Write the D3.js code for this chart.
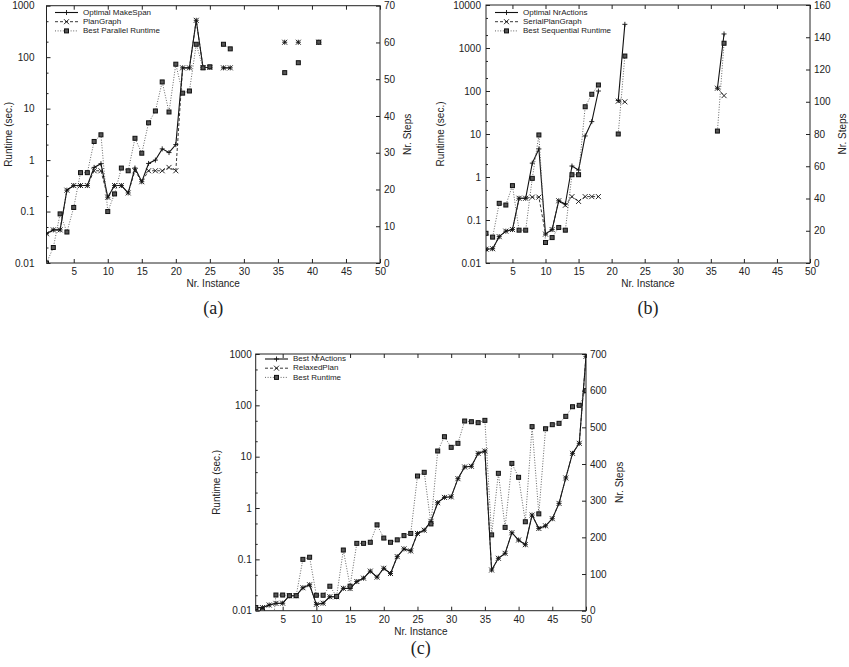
<!DOCTYPE html>
<html>
<head>
<meta charset="utf-8">
<script src="https://cdn.jsdelivr.net/npm/d3@7"></script>
<style>
body { margin: 0; background: #fff; }
text { font-family: "Liberation Sans", Arial, sans-serif; fill: #222; }
</style>
</head>
<body>
<div id="container"></div>
<script>
const WIDTH = 849;
const HEIGHT = 667;

// ---- panel (a) ----
var instancesA = [1,2,3,4,5,6,7,8,9,10,11,12,13,14,15,16,17,18,19,20,21,22,23,24,25,26,27,28,29,30,31,32,33,34,35,36,37,38,39,40,41];
var optimalMakeSpan = [0.037,0.044,0.044,0.26,0.32,0.32,0.32,0.72,0.85,0.19,0.32,0.32,0.23,0.7,0.38,0.86,1.0,1.65,1.4,2.0,62,62,520,63,63,null,62,62,null,null,null,null,null,null,null,195,null,195,null,null,195];
var planGraph = [0.037,0.044,0.044,0.26,0.32,0.32,0.32,0.62,0.62,0.19,0.32,0.32,0.23,0.62,0.38,0.62,0.62,0.62,0.72,0.62,62,62,520,63,63,null,62,62,null,null,null,null,null,null,null,195,null,195,null,null,195];
var bestParallel = [0.01,0.02,0.09,0.04,0.12,0.57,0.57,2.3,3.1,0.1,0.22,0.7,0.62,2.65,1.36,5.3,9.0,33,8.6,73,20,22,178,62,65,null,178,145,null,null,null,null,null,null,null,50,null,78,null,null,195];
var yTicksA = [0.01,0.1,1,10,100,1000];
var yTickLabelsA = ["0.01","0.1","1","10","100","1000"];
var y2TicksA = [0,10,20,30,40,50,60,70];
var legendA = ["Optimal MakeSpan","PlanGraph","Best Parallel Runtime"];

// ---- panel (b) ----
var instancesB = [1,2,3,4,5,6,7,8,9,10,11,12,13,14,15,16,17,18,19,20,21,22,23,24,25,26,27,28,29,30,31,32,33,34,35,36,37];
var optimalNrActions = [0.021,0.0215,0.041,0.055,0.06,0.32,0.32,2.1,4.5,0.047,0.06,0.28,0.235,1.8,1.45,9,19.4,100,null,null,60,3550,null,null,null,null,null,null,null,null,null,null,null,null,null,116,2120];
var serialPlanGraph = [0.021,0.0215,0.041,0.055,0.06,0.32,0.32,0.34,0.34,0.047,0.06,0.28,0.22,0.35,0.27,0.35,0.35,0.35,null,null,58,56,null,null,null,null,null,null,null,null,null,null,null,null,null,116,78];
var bestSequential = [0.049,0.04,0.244,0.223,0.63,0.058,0.058,0.93,9.5,0.03,0.039,0.067,0.058,1.13,1.13,43,84,138,null,null,10,650,null,null,null,null,null,null,null,null,null,null,null,null,null,11.7,1290];
var yTicksB = [0.01,0.1,1,10,100,1000,10000];
var yTickLabelsB = ["0.01","0.1","1","10","100","1000","10000"];
var y2TicksB = [0,20,40,60,80,100,120,140,160];
var legendB = ["Optimal NrActions","SerialPlanGraph","Best Sequential Runtime"];

// ---- panel (c) ----
var instancesC = [1,2,3,4,5,6,7,8,9,10,11,12,13,14,15,16,17,18,19,20,21,22,23,24,25,26,27,28,29,30,31,32,33,34,35,36,37,38,39,40,41,42,43,44,45,46,47,48,49,50];
var bestNrActions = [0.0115,0.0115,0.0129,0.0139,0.014,0.0196,0.0196,0.028,0.032,0.0133,0.014,0.0187,0.0187,0.0273,0.027,0.037,0.043,0.059,0.045,0.067,0.053,0.113,0.16,0.146,0.32,0.37,0.55,1.27,1.61,1.65,3.73,6.3,6.5,11.6,12.9,0.062,0.105,0.131,0.33,0.238,0.193,0.73,0.40,0.45,0.62,1.23,3.85,11.6,18.2,900];
var relaxedPlan = [0.0115,0.0115,0.0129,0.0139,0.014,0.0196,0.0196,0.028,0.032,0.0133,0.014,0.0187,0.0187,0.0273,0.027,0.037,0.043,0.059,0.045,0.067,0.053,0.113,0.16,0.146,0.32,0.37,0.55,1.27,1.61,1.65,3.73,6.3,6.5,11.6,12.9,0.062,0.105,0.131,0.33,0.238,0.193,0.73,0.40,0.45,0.62,1.23,3.85,11.6,18.2,900];
var bestRuntime = [0.0115,0.01,0.001,0.0202,0.0202,0.0196,0.0196,0.1,0.11,0.02,0.02,0.03,0.019,0.152,0.03,0.205,0.205,0.215,0.47,0.26,0.215,0.24,0.29,0.32,4.2,4.96,0.49,12.9,24.5,15.2,18.2,49.5,48,46,51,0.30,4.74,0.42,7.4,3.96,0.54,38.5,0.77,35,42,44.6,61,94,100,193];
var yTicksC = [0.01,0.1,1,10,100,1000];
var yTickLabelsC = ["0.01","0.1","1","10","100","1000"];
var y2TicksC = [0,100,200,300,400,500,600,700];
var legendC = ["Best NrActions","RelaxedPlan","Best Runtime"];

var xTicks = [5,10,15,20,25,30,35,40,45,50];

var styles = [
    {dash: null, stroke: "#111", width: 1.1, marker: "plus"},
    {dash: "3,2", stroke: "#222", width: 0.9, marker: "times"},
    {dash: "1,1.6", stroke: "#555", width: 0.9, marker: "box"}
];

var panels = [
    {name: "(a)", instances: instancesA, series: [optimalMakeSpan, planGraph, bestParallel], legend: legendA,
     yTicks: yTicksA, yLabels: yTickLabelsA, y2Ticks: y2TicksA,
     left: 46.5, right: 380, top: 5.7, bottom: 263, leftPad: 12, ylabX: 9, y2labX: 408,
     legX: 55, legY: 12.5, captionY: 314},
    {name: "(b)", instances: instancesB, series: [optimalNrActions, serialPlanGraph, bestSequential], legend: legendB,
     yTicks: yTicksB, yLabels: yTickLabelsB, y2Ticks: y2TicksB,
     left: 486, right: 810, top: 5, bottom: 263, leftPad: 5, ylabX: 441, y2labX: 843,
     legX: 495, legY: 12.5, captionY: 314},
    {name: "(c)", instances: instancesC, series: [bestNrActions, relaxedPlan, bestRuntime], legend: legendC,
     yTicks: yTicksC, yLabels: yTickLabelsC, y2Ticks: y2TicksC,
     left: 255.7, right: 586, top: 354, bottom: 610.7, leftPad: 4, ylabX: 217, y2labX: 620,
     legX: 265, legY: 359, captionY: 654}
];

var translate = function (x, y) {
    return "translate(" + x + "," + y + ")";
};

var drawMarker = function (g, type, cx, cy) {
    var s = 2.5;
    if (type === "plus") {
        g.append("path").attr("d", "M" + (cx - s) + "," + cy + "H" + (cx + s) + "M" + cx + "," + (cy - s) + "V" + (cy + s))
            .attr("stroke", "#111").attr("stroke-width", 0.9).attr("fill", "none");
    } else if (type === "times") {
        g.append("path").attr("d", "M" + (cx - s) + "," + (cy - s) + "L" + (cx + s) + "," + (cy + s) + "M" + (cx - s) + "," + (cy + s) + "L" + (cx + s) + "," + (cy - s))
            .attr("stroke", "#111").attr("stroke-width", 0.9).attr("fill", "none");
    } else {
        g.append("rect").attr("x", cx - 2).attr("y", cy - 2).attr("width", 4).attr("height", 4)
            .attr("fill", "#555").attr("stroke", "#111").attr("stroke-width", 1);
    }
};

var createChart = function () {
    var svg = d3.select("#container").append("svg")
        .attr("width", WIDTH).attr("height", HEIGHT);
    svg.append("rect").attr("width", WIDTH).attr("height", HEIGHT).attr("fill", "#fff");

    panels.forEach(function (p, pi) {
        var x = d3.scaleLinear().domain([1, 50]).range([p.left, p.right]);
        var y = d3.scaleLog().domain([p.yTicks[0], p.yTicks[p.yTicks.length - 1]]).range([p.bottom, p.top]);
        var y2 = d3.scaleLinear().domain([0, p.y2Ticks[p.y2Ticks.length - 1]]).range([p.bottom, p.top]);
        var g = svg.append("g");
        var fs = "10px";

        // axes
        g.append("g").attr("transform", translate(p.left, 0))
            .call(d3.axisLeft(y).tickValues(p.yTicks)
                .tickFormat(function (d, i) { return p.yLabels[i]; })
                .tickSize(-4).tickPadding(p.leftPad));
        // minor log ticks at 2 and 5
        var minors = [];
        p.yTicks.slice(0, -1).forEach(function (d) { minors.push(d * 2, d * 5); });
        g.append("g").attr("transform", translate(p.left, 0))
            .call(d3.axisLeft(y).tickValues(minors).tickFormat("").tickSize(-2));
        g.append("g").attr("transform", translate(p.right, 0))
            .call(d3.axisRight(y2).tickValues(p.y2Ticks).tickSize(-4).tickPadding(4));
        g.append("g").attr("transform", translate(0, p.bottom))
            .call(d3.axisBottom(x).tickValues(xTicks).tickSize(-4).tickPadding(5));
        g.append("g").attr("transform", translate(0, p.top))
            .call(d3.axisTop(x).tickValues(xTicks).tickFormat("").tickSize(-4));
        g.selectAll(".domain").remove();
        g.selectAll(".tick line").attr("stroke", "#222");
        g.selectAll(".tick text").attr("font-size", fs).attr("font-family", "Liberation Sans, Arial, sans-serif").attr("fill", "#222");

        g.append("rect").attr("x", p.left).attr("y", p.top)
            .attr("width", p.right - p.left).attr("height", p.bottom - p.top)
            .attr("fill", "none").attr("stroke", "#222").attr("stroke-width", 1);

        // labels
        var midY = (p.top + p.bottom) / 2;
        g.append("text").attr("transform", translate(p.ylabX, midY) + " rotate(-90)")
            .attr("text-anchor", "middle").attr("dominant-baseline", "middle").attr("font-size", fs).text("Runtime (sec.)");
        g.append("text").attr("transform", translate(p.y2labX, midY) + " rotate(-90)")
            .attr("text-anchor", "middle").attr("dominant-baseline", "middle").attr("font-size", fs).text("Nr. Steps");
        g.append("text").attr("x", (p.left + p.right) / 2).attr("y", p.bottom + 24)
            .attr("text-anchor", "middle").attr("font-size", fs).text("Nr. Instance");
        g.append("text").attr("x", (p.left + p.right) / 2).attr("y", p.captionY)
            .attr("text-anchor", "middle").attr("font-size", "18px")
            .style("font-family", "'Liberation Serif', 'DejaVu Serif', serif").text(p.name);

        // data
        var clipId = "clip" + pi;
        svg.append("clipPath").attr("id", clipId).append("rect")
            .attr("x", p.left).attr("y", p.top).attr("width", p.right - p.left).attr("height", p.bottom - p.top);
        var plot = g.append("g").attr("clip-path", "url(#" + clipId + ")");

        var line = d3.line()
            .defined(function (d) { return d.v !== null; })
            .x(function (d) { return x(d.n); })
            .y(function (d) { return y(d.v); });

        p.series.forEach(function (vals, si) {
            var st = styles[si];
            var pts = p.instances.map(function (n, i) { return {n: n, v: vals[i]}; });
            plot.append("path").attr("d", line(pts))
                .attr("fill", "none").attr("stroke", st.stroke).attr("stroke-width", st.width)
                .attr("stroke-dasharray", st.dash);
            pts.forEach(function (d) {
                if (d.v !== null) drawMarker(plot, st.marker, x(d.n), y(d.v));
            });
        });

        // legend
        p.legend.forEach(function (name, si) {
            var st = styles[si];
            var ly = p.legY + si * 9.2;
            g.append("line").attr("x1", p.legX).attr("x2", p.legX + 23).attr("y1", ly).attr("y2", ly)
                .attr("stroke", st.stroke).attr("stroke-width", st.width).attr("stroke-dasharray", st.dash);
            drawMarker(g, st.marker, p.legX + 11.5, ly);
            g.append("text").attr("x", p.legX + 28).attr("y", ly).attr("dominant-baseline", "middle")
                .attr("font-size", "8px").text(name);
        });
    });
};

window.onload = createChart;
</script>
</body>
</html>
